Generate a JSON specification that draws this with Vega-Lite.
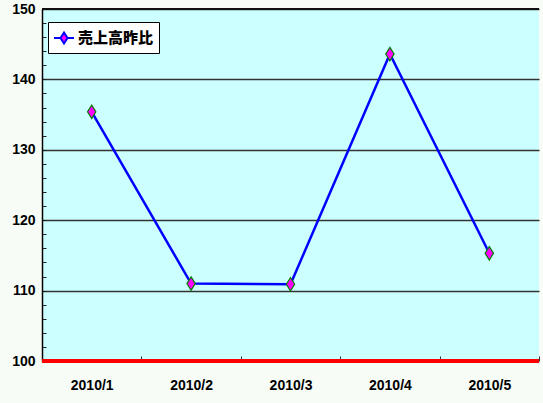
{
  "$schema": "https://vega.github.io/schema/vega-lite/v6.json",
  "width": 497,
  "height": 352,
  "autosize": {"type": "none"},
  "padding": {"left": 42, "top": 9, "right": 4, "bottom": 42},
  "background": "#f7fcf7",
  "config": {"view": {"fill": "#ccffff", "stroke": null}},
  "data": {
    "values": [
      {"month": "2010/1", "value": 135.4, "series": "売上高昨比"},
      {"month": "2010/2", "value": 111.0, "series": "売上高昨比"},
      {"month": "2010/3", "value": 110.9, "series": "売上高昨比"},
      {"month": "2010/4", "value": 143.6, "series": "売上高昨比"},
      {"month": "2010/5", "value": 115.3, "series": "売上高昨比"}
    ]
  },
  "encoding": {
    "x": {
      "field": "month", "type": "ordinal", "title": null,
      "scale": {"type": "band", "paddingInner": 0, "paddingOuter": 0},
      "axis": {
        "labelAngle": 0, "domain": false, "tickBand": "extent",
        "tickSize": -5, "tickColor": "#333", "tickWidth": 1,
        "labelPadding": 22, "labelFont": "Liberation Sans", "labelFontWeight": "bold",
        "labelFontSize": 14, "labelColor": "#000", "grid": false
      }
    },
    "y": {
      "field": "value", "type": "quantitative", "title": null,
      "scale": {"domain": [100, 150], "nice": false, "zero": false},
      "axis": {
        "values": [100,102,104,106,108,110,112,114,116,118,120,122,124,126,128,130,132,134,136,138,140,142,144,146,148,150],
        "labelExpr": "datum.value % 10 === 0 ? datum.label : ''",
        "domainColor": "#000", "domainWidth": 1.5,
        "tickSize": -4, "tickColor": "#222", "tickWidth": 1,
        "labelPadding": 11, "labelFont": "Liberation Sans", "labelFontWeight": "bold",
        "labelFontSize": 14, "labelColor": "#000",
        "grid": true, "gridColor": "#333", "gridWidth": 1.3,
        "gridOpacity": {"condition": {"test": "datum.value % 10 === 0 && datum.value > 100", "value": 1}, "value": 0}
      }
    }
  },
  "layer": [
    {
      "mark": {"type": "rule", "color": "#111", "strokeWidth": 1.5},
      "encoding": {"y": {"datum": 150, "type": "quantitative"}, "x": null}
    },
    {
      "mark": {"type": "line", "color": "#0000ff", "strokeWidth": 2.5}
    },
    {
      "mark": {"type": "point", "shape": "M0,-1L0.62,0L0,1L-0.62,0Z", "filled": true, "stroke": "#008000", "strokeWidth": 1.2, "size": 180, "opacity": 1},
      "encoding": {
        "color": {
          "field": "series", "type": "nominal",
          "scale": {"range": ["#ff00ff"]},
          "legend": {
            "title": null, "orient": "none", "legendX": 6, "legendY": 13,
            "padding": 5, "strokeColor": "#000", "fillColor": "#ffffff", "cornerRadius": 0,
            "symbolType": "M-1,0H-0.35M0.35,0H1M0,-0.55L0.35,0L0,0.55L-0.35,0Z",
            "symbolSize": 400, "symbolStrokeColor": "#0000ff", "symbolStrokeWidth": 2,
            "symbolFillColor": "#ff00ff",
            "labelFont": "Noto Sans CJK JP", "labelFontWeight": 900, "labelFontSize": 15,
            "labelColor": "#000", "labelOffset": 3,
            "encode": {"symbols": {"update": {"stroke": {"value": "#0000ff"}, "fill": {"value": "#ff00ff"}, "strokeWidth": {"value": 2}, "opacity": {"value": 1}}}}
          }
        }
      }
    },
    {
      "mark": {"type": "rule", "color": "#ff0000", "strokeWidth": 4},
      "encoding": {"y": {"datum": 100, "type": "quantitative"}, "x": null}
    }
  ]
}
